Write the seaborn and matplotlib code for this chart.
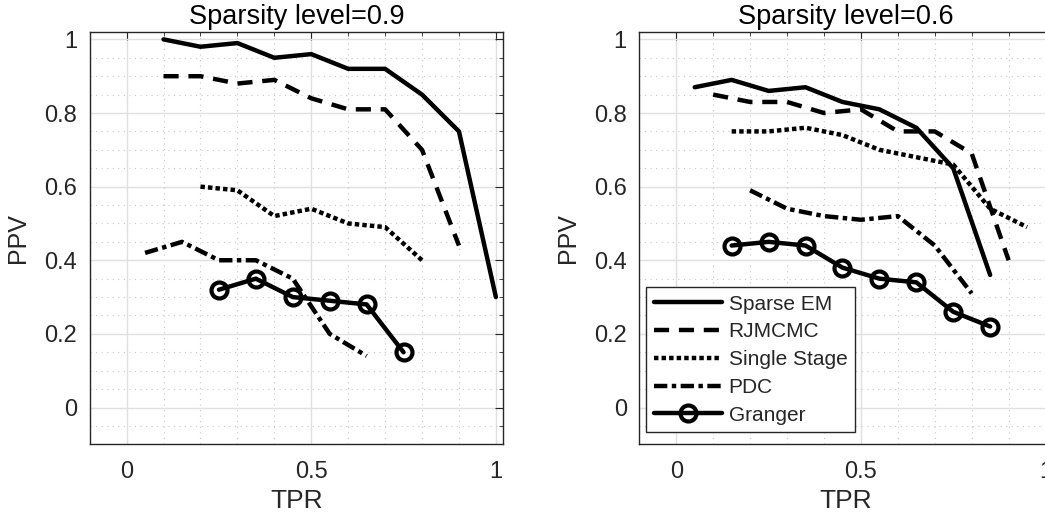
import numpy as np
import pandas as pd
import matplotlib
matplotlib.use("Agg")
import matplotlib.pyplot as plt
import seaborn as sns

# ---- data: Sparsity level = 0.9 ----
left_sparse_x = [0.1, 0.2, 0.3, 0.4, 0.5, 0.6, 0.7, 0.8, 0.9, 1.0]
left_sparse_y = [1.00, 0.98, 0.99, 0.95, 0.96, 0.92, 0.92, 0.85, 0.75, 0.30]
left_rj_x = [0.1, 0.2, 0.3, 0.4, 0.5, 0.6, 0.7, 0.8, 0.9]
left_rj_y = [0.90, 0.90, 0.88, 0.89, 0.84, 0.81, 0.81, 0.70, 0.44]
left_ss_x = [0.2, 0.3, 0.4, 0.5, 0.6, 0.7, 0.8]
left_ss_y = [0.60, 0.59, 0.52, 0.54, 0.50, 0.49, 0.40]
left_pdc_x = [0.05, 0.15, 0.25, 0.35, 0.45, 0.55, 0.65]
left_pdc_y = [0.42, 0.45, 0.40, 0.40, 0.35, 0.20, 0.14]
left_gr_x = [0.25, 0.35, 0.45, 0.55, 0.65, 0.75]
left_gr_y = [0.32, 0.35, 0.30, 0.29, 0.28, 0.15]

# ---- data: Sparsity level = 0.6 ----
right_sparse_x = [0.05, 0.15, 0.25, 0.35, 0.45, 0.55, 0.65, 0.75, 0.85]
right_sparse_y = [0.87, 0.89, 0.86, 0.87, 0.83, 0.81, 0.76, 0.65, 0.36]
right_rj_x = [0.1, 0.2, 0.3, 0.4, 0.5, 0.6, 0.7, 0.8, 0.9]
right_rj_y = [0.85, 0.83, 0.83, 0.80, 0.81, 0.75, 0.75, 0.69, 0.40]
right_ss_x = [0.15, 0.25, 0.35, 0.45, 0.55, 0.65, 0.75, 0.85, 0.95]
right_ss_y = [0.75, 0.75, 0.76, 0.74, 0.70, 0.68, 0.66, 0.54, 0.49]
right_pdc_x = [0.2, 0.3, 0.4, 0.5, 0.6, 0.7, 0.8]
right_pdc_y = [0.59, 0.54, 0.52, 0.51, 0.52, 0.44, 0.31]
right_gr_x = [0.15, 0.25, 0.35, 0.45, 0.55, 0.65, 0.75, 0.85]
right_gr_y = [0.44, 0.45, 0.44, 0.38, 0.35, 0.34, 0.26, 0.22]

methods = ["Sparse EM", "RJMCMC", "Single Stage", "PDC", "Granger"]
titles = ["Sparsity level=0.9", "Sparsity level=0.6"]
x_ticks = [0, 0.5, 1]
x_tick_labels = ["0", "0.5", "1"]
y_ticks = [0, 0.2, 0.4, 0.6, 0.8, 1.0]
y_tick_labels = ["0", "0.2", "0.4", "0.6", "0.8", "1"]

panels = [
    [(left_sparse_x, left_sparse_y), (left_rj_x, left_rj_y), (left_ss_x, left_ss_y),
     (left_pdc_x, left_pdc_y), (left_gr_x, left_gr_y)],
    [(right_sparse_x, right_sparse_y), (right_rj_x, right_rj_y), (right_ss_x, right_ss_y),
     (right_pdc_x, right_pdc_y), (right_gr_x, right_gr_y)],
]

styles = {
    "Sparse EM": dict(linestyle="-", marker=None),
    "RJMCMC": dict(linestyle=(0, (3.4, 2.2)), marker=None),
    "Single Stage": dict(linestyle=(0, (1.0, 0.7)), marker=None),
    "PDC": dict(linestyle=(0, (3.0, 1.0, 1.0, 1.0)), marker=None),
    "Granger": dict(linestyle="-", marker="o"),
}

sns.set_theme(style="white")
plt.rcParams["font.family"] = ["Liberation Sans", "DejaVu Sans"]
plt.rcParams["lines.dash_capstyle"] = "butt"

fig = plt.figure(figsize=(10.45, 5.19), dpi=100)
axes_pos = [[0.0858, 0.1439, 0.3958, 0.7944], [0.6118, 0.1439, 0.3958, 0.7944]]
axc = "#262626"

for pi, (pos, series) in enumerate(zip(axes_pos, panels)):
    ax = fig.add_axes(pos)
    for name, (xs, ys) in zip(methods, series):
        df = pd.DataFrame({"TPR": xs, "PPV": ys})
        st = styles[name]
        sns.lineplot(data=df, x="TPR", y="PPV", ax=ax, color="black", lw=3.2,
                     linestyle=st["linestyle"], marker=st["marker"],
                     markersize=11.5 if st["marker"] else None,
                     markerfacecolor="none", markeredgecolor="black",
                     markeredgewidth=3, label=name, legend=False, zorder=3)
    ax.set_xlim(-0.1, 1.02)
    ax.set_ylim(-0.1, 1.02)
    ax.set_xticks(x_ticks)
    ax.set_xticklabels(x_tick_labels)
    ax.set_yticks(y_ticks)
    ax.set_yticklabels(y_tick_labels)
    ax.set_xticks(np.arange(-0.1, 1.021, 0.1), minor=True)
    ax.set_yticks(np.arange(-0.1, 1.021, 0.05), minor=True)
    ax.grid(True, which="major", color="#e0e0e0", lw=1.0, linestyle="-", zorder=0)
    ax.grid(True, which="minor", color="#c8c8c8", lw=0.8, linestyle=(0, (1, 4)), zorder=0)
    ax.set_axisbelow(True)
    ax.tick_params(which="both", direction="in", top=True, right=True, colors=axc,
                   labelsize=17)
    ax.tick_params(axis="x", which="major", length=6, width=0.8, pad=12)
    ax.tick_params(axis="y", which="major", length=6, width=0.8, pad=9)
    ax.tick_params(which="minor", length=3, width=0.6)
    for sp in ax.spines.values():
        sp.set_color(axc)
        sp.set_linewidth(1.0)
    ax.set_xlabel("TPR", fontsize=19, color=axc, labelpad=4)
    ax.set_ylabel("PPV", fontsize=18, color=axc, labelpad=10)
    ax.set_title(titles[pi], fontsize=19.5, color="black", pad=6)
    if pi == 1:
        leg = ax.legend(loc="lower left", bbox_to_anchor=(0.017, 0.03), fontsize=15,
                        handlelength=3.3, handletextpad=0.3, borderpad=0.35,
                        labelspacing=0.42, frameon=True, fancybox=False,
                        borderaxespad=0)
        leg.get_frame().set_edgecolor(axc)
        leg.get_frame().set_linewidth(1.0)
        leg.get_frame().set_facecolor("white")
        leg.get_frame().set_alpha(1)

fig.savefig("out.png", dpi=100)
